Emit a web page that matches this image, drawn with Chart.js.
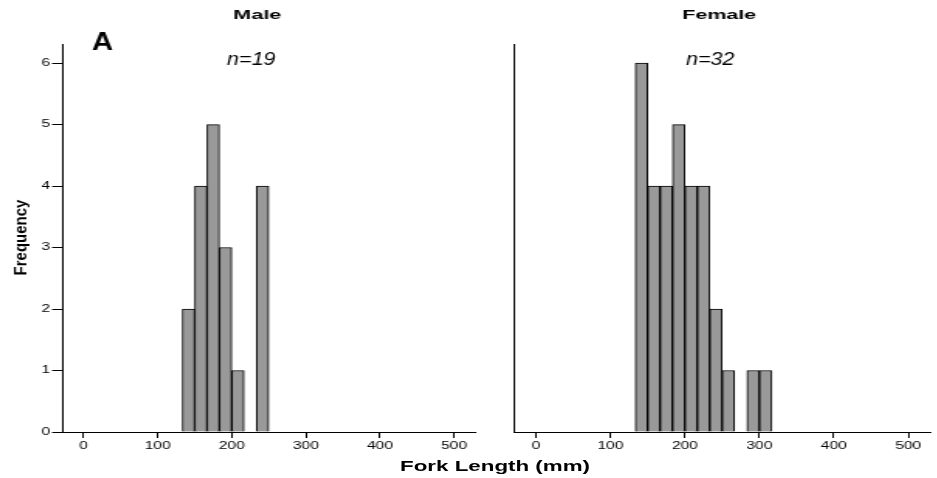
<!DOCTYPE html>
<html>
<head>
<meta charset="utf-8">
<script src="https://cdn.jsdelivr.net/npm/chart.js@4"></script>
<style>
  html, body { margin: 0; padding: 0; background: #fff; overflow: hidden; }
  #fig { position: relative; width: 937px; height: 478px; }
  #fig canvas { position: absolute; top: 0; height: 478px; }
  #xTitle {
    position: absolute; left: 345px; top: 458px; width: 300px;
    font: bold 15px "Liberation Sans", Arial, sans-serif; line-height: 15px;
    text-align: center; white-space: nowrap; color: #000;
    transform: scaleX(1.49); transform-origin: 50% 50%;
  }
</style>
</head>
<body>
<div id="fig">
  <canvas id="male" width="310" height="478"></canvas>
  <canvas id="female" width="294" height="478"></canvas>
  <div id="xTitle">Fork Length (mm)</div>
</div>
<script>
// histogram bins (fork length, mm) and counts per sex
const binCenters = [141.67, 158.33, 175, 191.67, 208.33, 225, 241.67, 258.33, 275, 291.67, 308.33];
const maleFreq   = [2, 4, 5, 3, 1, 0, 4, 0, 0, 0, 0];
const femaleFreq = [6, 4, 4, 5, 4, 4, 2, 1, 0, 1, 1];
const xTicks = [0, 100, 200, 300, 400, 500];
const yTicks = [0, 1, 2, 3, 4, 5, 6];
const panelTitles = ['Male', 'Female'];
const sampleSizes = ['n=19', 'n=32'];

// the plots are drawn narrow and stretched sideways by CSS
const S = 1.55;
const FONT = '"Liberation Sans", Arial, sans-serif';
Chart.defaults.font.family = FONT;

const maleCanvas = document.getElementById('male');
const femaleCanvas = document.getElementById('female');
maleCanvas.style.left = '0px';
maleCanvas.style.width = (310 * S) + 'px';
femaleCanvas.style.left = (310 * S) + 'px';
femaleCanvas.style.width = (294 * S) + 'px';

// extra labels; x is in page pixels from the canvas' left edge, sx is the final horizontal stretch
function textPlugin(items) {
  return {
    id: 'panelText',
    afterDraw(chart) {
      const ctx = chart.ctx;
      items.forEach(it => {
        ctx.save();
        ctx.translate(it.x / S, it.y);
        ctx.scale(it.sx / S, 1);
        if (it.rotate) ctx.rotate(it.rotate);
        ctx.font = it.font;
        ctx.fillStyle = '#000';
        ctx.textAlign = 'center';
        ctx.textBaseline = it.baseline || 'alphabetic';
        ctx.fillText(it.text, 0, 0);
        ctx.restore();
      });
    }
  };
}

function makePanel(canvas, freq, opts) {
  return new Chart(canvas, {
    type: 'bar',
    data: {
      datasets: [{
        data: binCenters.map((x, i) => ({ x: x, y: freq[i] })),
        backgroundColor: '#999999',
        borderColor: '#000',
        borderWidth: 1,
        barPercentage: 1,
        categoryPercentage: 1
      }]
    },
    options: {
      responsive: false,
      animation: false,
      devicePixelRatio: 1,
      layout: { padding: { left: 0, right: opts.padRight, top: 44, bottom: 0 } },
      plugins: { legend: { display: false }, tooltip: { enabled: false } },
      scales: {
        x: {
          type: 'linear', min: -29, max: 529, offset: false,
          afterBuildTicks: s => { s.ticks = xTicks.map(v => ({ value: v })); },
          afterFit: s => { s.height = 46; },
          grid: { drawOnChartArea: false, drawTicks: true, tickLength: 6, color: '#000', lineWidth: 1, offset: false },
          border: { display: true, color: '#000', width: 1 },
          ticks: { color: '#000', font: { size: 10 }, padding: 2, maxRotation: 0, autoSkip: false }
        },
        y: {
          min: 0, max: 6.31,
          afterBuildTicks: s => { s.ticks = yTicks.map(v => ({ value: v })); },
          afterFit: s => { s.width = opts.yWidth; },
          grid: { drawOnChartArea: false, drawTicks: opts.yTicks, tickLength: 6.45, color: '#000', lineWidth: 1 },
          border: { display: true, color: '#000', width: 1 },
          ticks: { display: opts.yTicks, color: '#000', font: { size: 10 }, padding: 1.3 }
        }
      }
    },
    plugins: [textPlugin(opts.texts)]
  });
}

makePanel(maleCanvas, maleFreq, {
  padRight: 3.55, yWidth: 40, yTicks: true,
  texts: [
    { text: panelTitles[0], x: 257, y: 18.7, font: 'bold 13px ' + FONT, sx: 1.66 },
    { text: 'A', x: 102.5, y: 50, font: 'bold 25px ' + FONT, sx: 1.17 },
    { text: sampleSizes[0], x: 251, y: 65, font: 'italic 19px ' + FONT, sx: 1.13 },
    { text: 'Frequency', x: 21.7, y: 237.5, font: 'bold 15px ' + FONT, sx: 1.2, rotate: -Math.PI / 2, baseline: 'middle' }
  ]
});

makePanel(femaleCanvas, femaleFreq, {
  padRight: 4, yWidth: 21.6, yTicks: false,
  texts: [
    { text: panelTitles[1], x: 238.5, y: 18.5, font: 'bold 13px ' + FONT, sx: 1.66 },
    { text: sampleSizes[1], x: 229.5, y: 65, font: 'italic 19px ' + FONT, sx: 1.13 }
  ]
});
</script>
</body>
</html>
